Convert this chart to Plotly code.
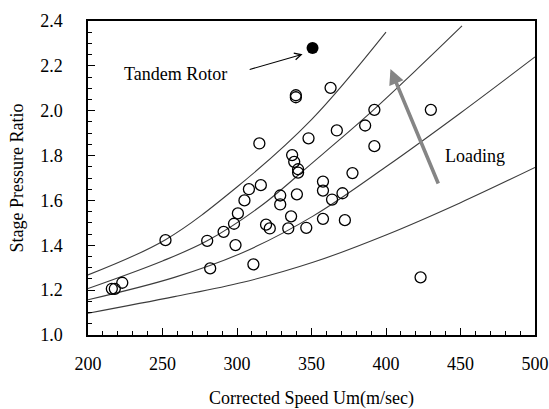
import plotly.graph_objects as go

# Measured stages: corrected speed (m/s) and stage pressure ratio
speed = [216, 218, 223, 252, 280, 282, 291, 298, 299, 300.6, 305, 308, 311, 315, 316,
         319.5, 322, 329, 329, 334.4, 336.3, 337, 338.4, 341, 341, 340.2, 339.5, 339.5,
         346.5, 348, 357.7, 357.7, 357.7, 362.8, 363.8, 367, 370.8, 372.4, 377.5, 386,
         392.2, 392.2, 423.2, 430.1]
pressure_ratio = [1.206, 1.206, 1.233, 1.423, 1.42, 1.297, 1.46, 1.496, 1.401, 1.542, 1.60,
                  1.65, 1.315, 1.854, 1.668, 1.492, 1.475, 1.622, 1.582, 1.475, 1.529, 1.802,
                  1.772, 1.739, 1.724, 1.627, 2.069, 2.060, 1.478, 1.877, 1.684, 1.644, 1.518,
                  2.102, 1.604, 1.912, 1.632, 1.512, 1.722, 1.934, 2.004, 1.842, 1.257, 2.004]

# Tandem rotor stage
tandem_speed = [350.7]
tandem_ratio = [2.28]

# Constant-loading lines (lowest to highest loading)
line_d_x = [200, 258, 304, 351, 400, 450, 500]
line_d_y = [1.097, 1.171, 1.235, 1.324, 1.446, 1.59, 1.747]
line_c_x = [200, 258, 304, 351, 400, 450, 500]
line_c_y = [1.157, 1.257, 1.368, 1.53, 1.75, 1.99, 2.24]
line_b_x = [200, 250, 280, 316, 351, 386, 420, 451]
line_b_y = [1.207, 1.33, 1.42, 1.575, 1.77, 1.97, 2.18, 2.378]
line_a_x = [200, 252, 300, 350, 400]
line_a_y = [1.268, 1.425, 1.66, 1.96, 2.35]

x_ticks = [200, 250, 300, 350, 400, 450, 500]
y_ticks = [1.0, 1.2, 1.4, 1.6, 1.8, 2.0, 2.2, 2.4]

serif = "Liberation Serif"
line_color = "#3c3c3c"

fig = go.Figure()

for lx, ly in [(line_d_x, line_d_y), (line_c_x, line_c_y),
               (line_b_x, line_b_y), (line_a_x, line_a_y)]:
    fig.add_trace(go.Scatter(x=lx, y=ly, mode="lines",
                             line=dict(color=line_color, width=1.1, shape="spline",
                                       smoothing=1.0),
                             hoverinfo="skip", showlegend=False))

fig.add_trace(go.Scatter(x=speed, y=pressure_ratio, mode="markers",
                         marker=dict(symbol="circle-open", size=11, color="black",
                                     line=dict(width=1.3, color="black")),
                         showlegend=False))
fig.add_trace(go.Scatter(x=tandem_speed, y=tandem_ratio, mode="markers",
                         marker=dict(symbol="circle", size=12, color="black"),
                         showlegend=False))

# Tandem rotor callout
fig.add_annotation(x=344, y=2.252, ax=307.5, ay=2.182, xref="x", yref="y",
                   axref="x", ayref="y", showarrow=True, arrowhead=5,
                   arrowsize=1.2, arrowwidth=1.1, arrowcolor="black", text="")
fig.add_annotation(x=259, y=2.162, text="Tandem Rotor", showarrow=False,
                   font=dict(family=serif, size=18, color="black"))

# Loading direction arrow
fig.add_annotation(x=403, y=2.186, ax=435.5, ay=1.669, xref="x", yref="y",
                   axref="x", ayref="y", showarrow=True, arrowhead=2,
                   arrowsize=0.85, arrowwidth=3.6, arrowcolor="#858585", text="")
fig.add_annotation(x=459.5, y=1.80, text="Loading", showarrow=False,
                   font=dict(family=serif, size=18, color="black"))

fig.update_xaxes(range=[200, 500], tickvals=x_ticks, ticktext=[str(v) for v in x_ticks],
                 ticks="inside", ticklen=7, tickwidth=1, tickcolor="black",
                 minor=dict(dtick=10, ticks="inside", ticklen=4, tickcolor="black"),
                 showline=True, linecolor="black", linewidth=1.5, mirror=True,
                 showgrid=False, zeroline=False, ticklabelstandoff=12,
                 ticklabeloverflow="allow", automargin=False,
                 tickfont=dict(family=serif, size=18, color="black"),
                 title=dict(text="Corrected Speed Um(m/sec)", standoff=22,
                            font=dict(family=serif, size=18, color="black")))
fig.update_yaxes(range=[1.0, 2.4], tickvals=y_ticks, ticktext=[f"{v:.1f}" for v in y_ticks],
                 ticks="inside", ticklen=7, tickwidth=1, tickcolor="black",
                 minor=dict(dtick=0.05, ticks="inside", ticklen=4, tickcolor="black"),
                 showline=True, linecolor="black", linewidth=1.5, mirror=True,
                 showgrid=False, zeroline=False, ticklabelstandoff=20,
                 automargin=False,
                 tickfont=dict(family=serif, size=18, color="black"),
                 title=dict(text="Stage Pressure Ratio", standoff=12,
                            font=dict(family=serif, size=18, color="black")))

fig.update_layout(width=549, height=409, plot_bgcolor="white", paper_bgcolor="white",
                  margin=dict(l=88, r=14, t=21, b=74), showlegend=False)

fig.write_html("out.html")
